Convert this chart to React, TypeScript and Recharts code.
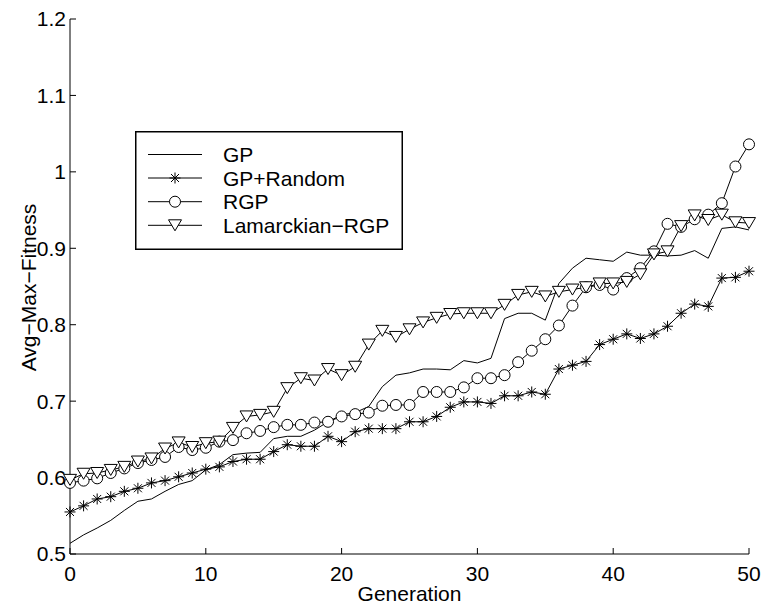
import { Legend, Line, LineChart, XAxis, YAxis } from 'recharts';

const generations = [
  0, 1, 2, 3, 4, 5, 6, 7, 8, 9, 10, 11, 12, 13, 14, 15, 16, 17, 18, 19, 20, 21, 22, 23, 24, 25,
  26, 27, 28, 29, 30, 31, 32, 33, 34, 35, 36, 37, 38, 39, 40, 41, 42, 43, 44, 45, 46, 47, 48, 49, 50,
];

const gp = [
  0.514, 0.525, 0.534, 0.544, 0.557, 0.569, 0.572, 0.582, 0.591, 0.596, 0.61, 0.617, 0.63, 0.632,
  0.633, 0.651, 0.654, 0.654, 0.662, 0.673, 0.682, 0.685, 0.693, 0.719, 0.734, 0.737, 0.742, 0.742,
  0.741, 0.753, 0.75, 0.756, 0.808, 0.815, 0.815, 0.806, 0.854, 0.874, 0.887, 0.885, 0.883, 0.895,
  0.891, 0.891, 0.89, 0.891, 0.897, 0.887, 0.926, 0.928, 0.924,
];

const gpRandom = [
  0.555, 0.563, 0.572, 0.575, 0.582, 0.586, 0.593, 0.596, 0.601, 0.606, 0.611, 0.614, 0.621, 0.624,
  0.624, 0.634, 0.643, 0.641, 0.641, 0.654, 0.647, 0.66, 0.664, 0.664, 0.664, 0.673, 0.673, 0.68,
  0.692, 0.699, 0.699, 0.697, 0.707, 0.707, 0.712, 0.709, 0.742, 0.747, 0.752, 0.774, 0.781, 0.788,
  0.782, 0.788, 0.798, 0.815, 0.827, 0.824, 0.861, 0.862, 0.87,
];

const rgp = [
  0.593, 0.596, 0.599, 0.606, 0.612, 0.619, 0.623, 0.627, 0.64, 0.636, 0.639, 0.647, 0.649, 0.658,
  0.661, 0.666, 0.669, 0.669, 0.672, 0.673, 0.68, 0.683, 0.685, 0.694, 0.695, 0.695, 0.712, 0.712,
  0.712, 0.718, 0.73, 0.73, 0.734, 0.751, 0.766, 0.781, 0.799, 0.825, 0.849, 0.852, 0.846, 0.861,
  0.874, 0.896, 0.932, 0.928, 0.938, 0.944, 0.959, 1.007, 1.036,
];

const lamarckian = [
  0.597, 0.605, 0.606, 0.61, 0.614, 0.621, 0.625, 0.638, 0.646, 0.64, 0.645, 0.647, 0.665, 0.68,
  0.682, 0.686, 0.717, 0.73, 0.727, 0.742, 0.734, 0.745, 0.774, 0.792, 0.784, 0.794, 0.803, 0.809,
  0.814, 0.815, 0.815, 0.815, 0.826, 0.839, 0.843, 0.837, 0.843, 0.846, 0.849, 0.854, 0.854, 0.856,
  0.866, 0.892, 0.896, 0.929, 0.943, 0.937, 0.944, 0.934, 0.933,
];

const xTicks = [0, 10, 20, 30, 40, 50];
const yTicks = [0.5, 0.6, 0.7, 0.8, 0.9, 1, 1.1, 1.2];

const seriesNames = ['GP', 'GP+Random', 'RGP', 'Lamarckian\u2212RGP'];

const data = generations.map((g, i) => ({
  gen: g,
  gp: gp[i],
  gpRandom: gpRandom[i],
  rgp: rgp[i],
  lamarckian: lamarckian[i],
}));

const FONT = '"Liberation Sans", Arial, Helvetica, sans-serif';
const INK = '#000';

function star(cx: number, cy: number, key?: string | number) {
  const r = 5.5;
  const d = 4;
  return (
    <g key={key} stroke={INK} strokeWidth={1}>
      <line x1={cx} y1={cy - r} x2={cx} y2={cy + r} />
      <line x1={cx - r} y1={cy} x2={cx + r} y2={cy} />
      <line x1={cx - d} y1={cy - d} x2={cx + d} y2={cy + d} />
      <line x1={cx - d} y1={cy + d} x2={cx + d} y2={cy - d} />
    </g>
  );
}

function ring(cx: number, cy: number, key?: string | number) {
  return <circle key={key} cx={cx} cy={cy} r={5.5} fill="#fff" stroke={INK} strokeWidth={1} />;
}

function triangle(cx: number, cy: number, key?: string | number) {
  const w = 6.5;
  const h = 5.5;
  return (
    <polygon
      key={key}
      points={`${cx - w},${cy - h} ${cx + w},${cy - h} ${cx},${cy + h}`}
      fill="#fff"
      stroke={INK}
      strokeWidth={1}
    />
  );
}

const markerFns = [null, star, ring, triangle];

function LegendBox() {
  const rows = [23.5, 47, 70.7, 94.3];
  return (
    <svg width={268} height={119} style={{ display: 'block' }}>
      <rect x={0.75} y={0.75} width={266.5} height={117.5} fill="#fff" stroke={INK} strokeWidth={1.5} />
      {seriesNames.map((name, i) => {
        const y = rows[i];
        const fn = markerFns[i];
        return (
          <g key={name}>
            <line x1={13} y1={y} x2={67} y2={y} stroke={INK} strokeWidth={1} />
            {fn ? fn(40, y) : null}
            <text x={88} y={y} dy="0.36em" fontSize={21} fontFamily={FONT} fill={INK}>
              {name}
            </text>
          </g>
        );
      })}
    </svg>
  );
}

function YTitle(props: any) {
  const vb = props.viewBox || { x: 0, y: 0, width: 70, height: 535 };
  const x = vb.x + 36;
  const y = vb.y + vb.height / 2 + 1;
  return (
    <text
      x={x}
      y={y}
      transform={`rotate(-90, ${x}, ${y})`}
      textAnchor="middle"
      fontSize={21}
      fontFamily={FONT}
      fill={INK}
    >
      Avg{'\u2212'}Max{'\u2212'}Fitness
    </text>
  );
}

export default function App() {
  const tickStyle = { fontSize: 21, fill: INK, fontFamily: FONT };
  return (
    <div style={{ position: 'absolute', left: 0, top: 0, background: '#fff' }}>
      <LineChart
        width={762}
        height={607}
        data={data}
        margin={{ top: 19, right: 13, left: 0, bottom: 23 }}
        style={{ fontFamily: FONT }}
      >
        <XAxis
          dataKey="gen"
          type="number"
          domain={[0, 50]}
          ticks={xTicks}
          height={30}
          tick={tickStyle}
          tickSize={-6}
          tickMargin={18}
          axisLine={{ stroke: INK, strokeWidth: 1 }}
          tickLine={{ stroke: INK, strokeWidth: 1 }}
          interval={0}
          label={{
            value: 'Generation',
            position: 'bottom',
            offset: 2,
            fontSize: 21,
            fill: INK,
            fontFamily: FONT,
          }}
        />
        <YAxis
          type="number"
          domain={[0.5, 1.2]}
          ticks={yTicks}
          width={70}
          tick={tickStyle}
          tickSize={-6}
          tickMargin={10}
          axisLine={{ stroke: INK, strokeWidth: 1 }}
          tickLine={{ stroke: INK, strokeWidth: 1 }}
          interval={0}
          tickFormatter={(v: number) => String(Number(v.toFixed(1)))}
          label={{ content: YTitle }}
        />
        <Legend
          layout="vertical"
          align="center"
          verticalAlign="middle"
          wrapperStyle={{ left: 135, top: 131, width: 268, height: 119 }}
          content={() => <LegendBox />}
        />
        <Line
          dataKey="gp"
          name={seriesNames[0]}
          stroke={INK}
          strokeWidth={1}
          dot={false}
          activeDot={false}
          isAnimationActive={false}
        />
        <Line
          dataKey="gpRandom"
          name={seriesNames[1]}
          stroke={INK}
          strokeWidth={1}
          dot={(p: any) => star(p.cx, p.cy, `s${p.index}`)}
          activeDot={false}
          isAnimationActive={false}
        />
        <Line
          dataKey="rgp"
          name={seriesNames[2]}
          stroke={INK}
          strokeWidth={1}
          dot={(p: any) => ring(p.cx, p.cy, `c${p.index}`)}
          activeDot={false}
          isAnimationActive={false}
        />
        <Line
          dataKey="lamarckian"
          name={seriesNames[3]}
          stroke={INK}
          strokeWidth={1}
          dot={(p: any) => triangle(p.cx, p.cy, `t${p.index}`)}
          activeDot={false}
          isAnimationActive={false}
        />
      </LineChart>
    </div>
  );
}
